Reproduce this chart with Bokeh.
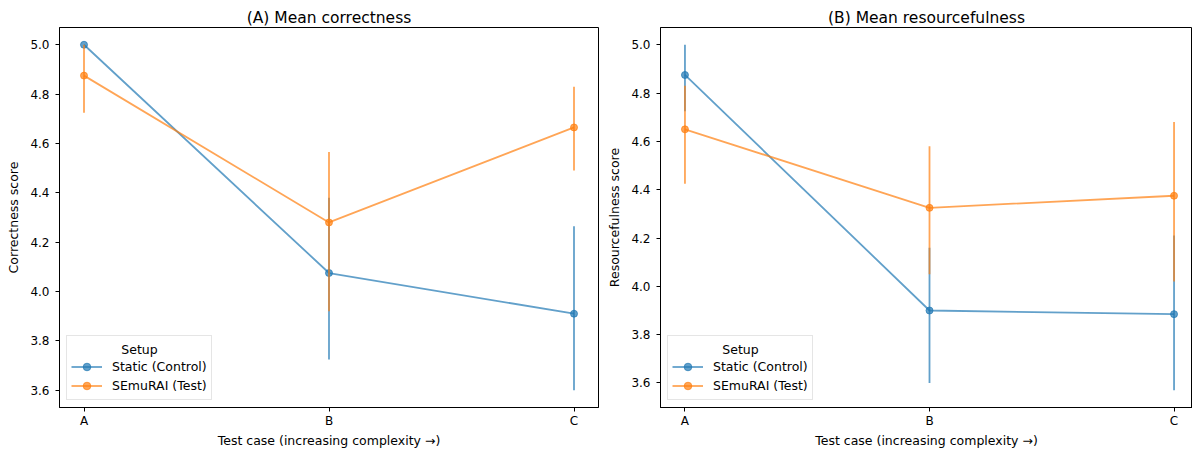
from bokeh.plotting import figure
from bokeh.models import Range1d, FixedTicker, Legend, LegendItem, PrintfTickFormatter, Label
from bokeh.layouts import row
from bokeh.embed import file_html
from bokeh.resources import INLINE

# ---------------- data ----------------
cases = ["A", "B", "C"]
y_ticks = [3.6, 3.8, 4.0, 4.2, 4.4, 4.6, 4.8, 5.0]
series_names = ["Static (Control)", "SEmuRAI (Test)"]
legend_title = "Setup"

# (A) correctness
corr_static_mean = [5.0, 4.075, 3.91]
corr_static_lo = [5.0, 3.725, 3.60]
corr_static_hi = [5.0, 4.38, 4.265]
corr_semurai_mean = [4.875, 4.28, 4.665]
corr_semurai_lo = [4.725, 3.92, 4.49]
corr_semurai_hi = [5.0, 4.565, 4.83]

# (B) resourcefulness
res_static_mean = [4.875, 3.90, 3.885]
res_static_lo = [4.725, 3.60, 3.57]
res_static_hi = [5.0, 4.16, 4.21]
res_semurai_mean = [4.65, 4.325, 4.375]
res_semurai_lo = [4.425, 4.05, 4.02]
res_semurai_hi = [4.83, 4.58, 4.68]

BLUE = "#1f77b4"
ORANGE = "#ff7f0e"
FONT = "DejaVu Sans"
ALPHA = 0.7


def make_panel(title, ylabel, series, width, left, right, x_end_frac=1.0):
    xs = list(range(len(cases)))
    lows = [v for s in series for v in s[1]]
    highs = [v for s in series for v in s[2]]
    ylo, yhi = min(lows), max(highs)
    pad = 0.05 * (yhi - ylo)
    xpad = 0.05 * (len(cases) - 1)
    x0, x1 = -xpad, len(cases) - 1 + xpad
    x1 = x0 + (x1 - x0) * x_end_frac
    p = figure(width=width, height=450, output_backend="svg", toolbar_location=None,
               x_range=Range1d(x0, x1),
               y_range=Range1d(ylo - pad, yhi + pad),
               min_border_left=left, min_border_right=right,
               min_border_top=27, min_border_bottom=42)
    p.title.text = title
    p.title.align = "center"
    p.title.text_font = FONT
    p.title.text_font_size = "15.5px"
    p.title.text_font_style = "normal"
    p.title.text_color = "black"
    p.title.standoff = 2

    p.xgrid.visible = False
    p.ygrid.visible = False
    p.outline_line_color = "black"
    p.outline_line_width = 1
    p.background_fill_color = "white"
    p.border_fill_color = "white"

    p.xaxis.ticker = FixedTicker(ticks=xs)
    p.xaxis.major_label_overrides = {i: c for i, c in enumerate(cases)}
    p.yaxis.ticker = FixedTicker(ticks=y_ticks)
    p.yaxis.formatter = PrintfTickFormatter(format="%.1f")
    for ax in (p.xaxis, p.yaxis):
        ax.minor_tick_line_color = None
        ax.major_tick_in = 0
        ax.major_tick_out = 4
        ax.major_tick_line_color = "black"
        ax.axis_line_color = "black"
        ax.major_label_text_font = FONT
        ax.major_label_text_font_size = "12px"
        ax.major_label_text_color = "black"
        ax.axis_label_text_font = FONT
        ax.axis_label_text_font_size = "12.5px"
        ax.axis_label_text_font_style = "normal"
        ax.axis_label_text_color = "black"
    p.xaxis.major_label_standoff = 2
    p.xaxis.axis_label_standoff = 2
    p.yaxis.major_label_standoff = 6
    p.yaxis.axis_label_standoff = 6
    p.xaxis.axis_label = "Test case (increasing complexity \u2192)"
    p.yaxis.axis_label = ylabel

    items = []
    for name, (mean, lo, hi), color in zip(series_names, series, [BLUE, ORANGE]):
        ln = p.line(xs, mean, line_color=color, line_width=1.8, line_alpha=ALPHA)
        p.segment(x0=xs, y0=lo, x1=xs, y1=hi, line_color=color, line_width=1.8, line_alpha=ALPHA)
        sc = p.scatter(xs, mean, marker="circle", size=7, fill_color=color,
                       line_color=color, fill_alpha=ALPHA, line_alpha=ALPHA)
        items.append(LegendItem(label=name, renderers=[ln, sc]))

    # legend: a blank title slot, with a centred title label drawn in it
    legend = Legend(items=items, location="bottom_left", title=" ")
    legend.margin = 7
    legend.padding = 4
    legend.spacing = 0
    legend.label_height = 19
    legend.glyph_height = 19
    legend.glyph_width = 31
    legend.label_standoff = 10
    legend.title_standoff = 2
    legend.label_text_font = FONT
    legend.label_text_font_size = "12.5px"
    legend.label_text_color = "black"
    legend.title_text_font = FONT
    legend.title_text_font_size = "12.5px"
    legend.title_text_font_style = "normal"
    legend.border_line_color = "#cccccc"
    legend.border_line_width = 1
    legend.background_fill_alpha = 0.0
    p.add_layout(legend)

    p.add_layout(Label(x=80, y=58, x_units="screen", y_units="screen", text=legend_title,
                       text_align="center", text_baseline="middle", text_font=FONT,
                       text_font_size="12.5px", text_color="black", level="overlay"))
    return p


pa = make_panel("(A) Mean correctness", "Correctness score",
                [(corr_static_mean, corr_static_lo, corr_static_hi),
                 (corr_semurai_mean, corr_semurai_lo, corr_semurai_hi)],
                width=600, left=59, right=2)
pb = make_panel("(B) Mean resourcefulness", "Resourcefulness score",
                [(res_static_mean, res_static_lo, res_static_hi),
                 (res_semurai_mean, res_semurai_lo, res_semurai_hi)],
                width=592, left=60, right=0, x_end_frac=532 / 538)

layout = row(pa, pb)
open("out.html", "w").write(file_html(layout, INLINE))
